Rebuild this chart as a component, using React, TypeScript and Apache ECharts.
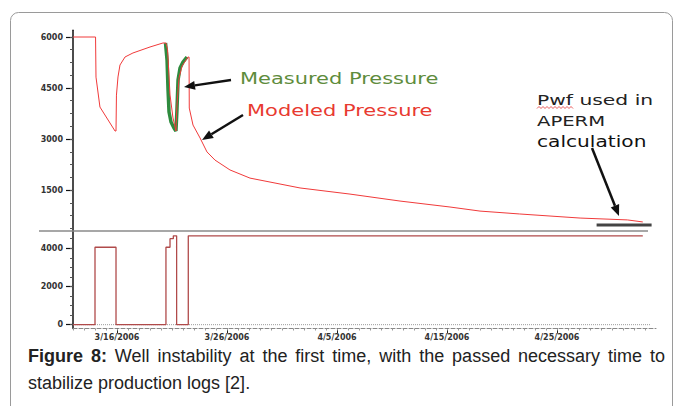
import React, { useEffect, useRef } from "react";
import * as echarts from "echarts";

// ---- axis ticks / labels ----
const xTickDays = [0, 10, 20, 30, 40];
const xTickLabels = ["3/16/2006", "3/26/2006", "4/5/2006", "4/15/2006", "4/25/2006"];
const pressureTicks = [1500, 3000, 4500, 6000];
const rateTicks = [0, 2000, 4000];

// ---- modeled pressure (red) ----
const modeledDays = [-4, -1.95, -1.91, -1.55, -0.18, -0.09, -0.05, 0.09, 0.27, 0.73, 1.45, 3.0, 4.18, 4.45, 4.6, 4.82, 5.09, 5.36, 5.45, 5.64, 5.91, 6.45, 6.55, 6.57, 6.91, 7.55, 8.18, 8.91, 10.27, 12.09, 16.64, 21.18, 25.73, 30.27, 33.0, 36.6, 42.1, 46.4, 47.8];
const modeledPressure = [6000, 6000, 4820, 3940, 3235, 3235, 4290, 4824, 5176, 5412, 5530, 5706, 5824, 5824, 5618, 4295, 3620, 3235, 4000, 4795, 5145, 5410, 5410, 3910, 3410, 3030, 2620, 2380, 2090, 1850, 1560, 1380, 1175, 1000, 880, 795, 675, 620, 560];

// ---- measured pressure (green) ----
const measuredDays = [4.41, 4.55, 4.64, 4.73, 4.91, 5.18, 5.36, 5.45, 5.55, 5.73, 6.0, 6.36];
const measuredPressure = [5824, 5324, 4441, 3794, 3500, 3324, 3235, 3853, 4735, 5088, 5265, 5412];

// ---- Pwf used in APERM calculation ----
const pwfDays = [43.6, 48.6];
const pwfPressure = [470, 470];

// ---- rate (lower panel) ----
const rateDays = [-4, -2, -2, -0.09, -0.09, 4.45, 4.45, 4.82, 4.82, 5.12, 5.12, 5.42, 5.42, 6.48, 6.48, 47.8];
const rateValues = [0, 0, 4050, 4050, 0, 0, 4050, 4050, 4500, 4500, 4650, 4650, 0, 0, 4650, 4650];
const zeroDays = [-4, 48.5];
const zeroValues = [0, 0];

// ---- texts ----
const captionLead = "Figure 8:";
const captionLine1 = "Well instability at the first time, with the passed necessary time to";
const captionLine2 = "stabilize production logs [2].";

const zip = (xs: number[], ys: number[]) => xs.map((x, i) => [x, ys[i]]);
const range = (a: number, b: number, s: number) => {
  const r: number[] = [];
  for (let v = a; v <= b + 1e-9; v += s) r.push(Math.round(v * 1000) / 1000);
  return r;
};

const arrow = (x1: number, y1: number, x2: number, y2: number) => {
  const dx = x2 - x1, dy = y2 - y1, L = Math.hypot(dx, dy);
  const ux = dx / L, uy = dy / L;
  const hl = 11, hw = 4.5;
  const bx = x2 - ux * hl, by = y2 - uy * hl;
  return [
    { type: "line", z: 100, shape: { x1, y1, x2: bx, y2: by }, style: { stroke: "#111", lineWidth: 2.5 } },
    { type: "polygon", z: 100, shape: { points: [[x2, y2], [bx - uy * hw, by + ux * hw], [bx + uy * hw, by - ux * hw]] }, style: { fill: "#111" } },
  ];
};

export default function App() {
  const ref = useRef<HTMLDivElement>(null);
  useEffect(() => {
    const el = ref.current!;
    const chart = echarts.init(el, null, { renderer: "svg" });

    // justified first caption line
    const capFamily = "'Liberation Sans', Arial, sans-serif";
    const capSize = 18;
    const canvas = document.createElement("canvas");
    const ctx = canvas.getContext("2d")!;
    const words: { t: string; bold: boolean }[] = [
      ...captionLead.split(" ").map((t) => ({ t, bold: true })),
      ...captionLine1.split(" ").map((t) => ({ t, bold: false })),
    ];
    const widths = words.map((w) => {
      ctx.font = `${w.bold ? "bold " : ""}${capSize}px ${capFamily}`;
      return ctx.measureText(w.t).width;
    });
    const capLeft = 28, capRight = 665;
    const total = widths.reduce((a, b) => a + b, 0);
    const gap = (capRight - capLeft - total) / (words.length - 1);
    let cx = capLeft;
    const captionEls: any[] = words.map((w, i) => {
      const e = {
        type: "text", z: 100, x: cx, y: 356,
        style: { text: w.t, fontSize: capSize, fontFamily: capFamily, fontWeight: w.bold ? "bold" : "normal", fill: "#222", verticalAlign: "middle" },
      };
      cx += widths[i] + gap;
      return e;
    });
    captionEls.push({
      type: "text", z: 100, x: capLeft, y: 383,
      style: { text: captionLine2, fontSize: capSize, fontFamily: capFamily, fill: "#222", verticalAlign: "middle" },
    });

    const wavy: number[][] = [];
    for (let x = 537, k = 0; x <= 574; x += 2, k++) wavy.push([x, k % 2 ? 106.5 : 108.5]);

    const labelFont = { fontSize: 8, fontWeight: "bold", color: "#333", fontFamily: "DejaVu Sans" };
    const plain = (v: number) => String(v);

    chart.setOption({
      animation: false,
      backgroundColor: "#fff",
      grid: [
        { left: 73, top: 30.2, width: 583, height: 200.6 },
        { left: 73, top: 231, width: 583, height: 97.5 },
      ],
      xAxis: [
        { type: "value", gridIndex: 0, min: -4, max: 49, show: false },
        {
          type: "value", gridIndex: 1, min: -4, max: 49, position: "bottom",
          axisLine: { show: true, onZero: false, lineStyle: { color: "#888", width: 1, type: "dashed" } },
          axisTick: { show: true, customValues: xTickDays, length: 5, lineStyle: { color: "#222" } },
          axisLabel: { customValues: xTickDays, formatter: (v: number) => xTickLabels[xTickDays.indexOf(v)] ?? "", margin: 5, ...labelFont },
          splitLine: { show: false },
        },
        {
          type: "value", gridIndex: 1, min: -4, max: 49, position: "bottom",
          axisLine: { show: false, onZero: false },
          axisTick: { show: true, customValues: range(-4, 48, 1), length: 2, lineStyle: { color: "#999" } },
          axisLabel: { show: false },
          splitLine: { show: false },
        },
      ],
      yAxis: [
        {
          type: "value", gridIndex: 0, min: 300, max: 6200, position: "left",
          axisLine: { show: true, onZero: false, lineStyle: { color: "#111", width: 1.5 } },
          axisTick: { show: true, customValues: pressureTicks, length: 7, lineStyle: { color: "#111", width: 1.2 } },
          axisLabel: { customValues: pressureTicks, margin: 10, formatter: plain, ...labelFont },
          splitLine: { show: false },
        },
        {
          type: "value", gridIndex: 0, min: 300, max: 6200, position: "left",
          axisLine: { show: false, onZero: false },
          axisTick: { show: true, customValues: range(375, 6000, 375), length: 3, lineStyle: { color: "#555" } },
          axisLabel: { show: false },
          splitLine: { show: false },
        },
        {
          type: "value", gridIndex: 1, min: -200, max: 4900, position: "left",
          axisLine: { show: true, onZero: false, lineStyle: { color: "#111", width: 1.5 } },
          axisTick: { show: true, customValues: rateTicks, length: 7, lineStyle: { color: "#111", width: 1.2 } },
          axisLabel: { customValues: rateTicks, margin: 10, formatter: plain, ...labelFont },
          splitLine: { show: false },
        },
        {
          type: "value", gridIndex: 1, min: -200, max: 4900, position: "left",
          axisLine: { show: false, onZero: false },
          axisTick: { show: true, customValues: range(0, 4500, 500), length: 3, lineStyle: { color: "#555" } },
          axisLabel: { show: false },
          splitLine: { show: false },
        },
      ],
      series: [
        { type: "line", xAxisIndex: 1, yAxisIndex: 2, data: zip(zeroDays, zeroValues), symbol: "none", lineStyle: { color: "#9a9a9a", width: 1, type: "dotted" } },
        { type: "line", xAxisIndex: 1, yAxisIndex: 2, data: zip(rateDays, rateValues), symbol: "none", lineStyle: { color: "#b04a4a", width: 1.3 } },
        { type: "line", xAxisIndex: 0, yAxisIndex: 0, data: zip(measuredDays, measuredPressure), symbol: "none", lineStyle: { color: "#2e8b3e", width: 3.5 } },
        { type: "line", xAxisIndex: 0, yAxisIndex: 0, data: zip(modeledDays, modeledPressure), symbol: "none", lineStyle: { color: "#f03a3a", width: 1 } },
        { type: "line", xAxisIndex: 0, yAxisIndex: 0, data: zip(pwfDays, pwfPressure), symbol: "none", lineStyle: { color: "#444", width: 3 } },
      ],
      graphic: [
        { type: "rect", z: 90, shape: { x: 10.5, y: 12.5, width: 662, height: 440, r: 8 }, style: { fill: "none", stroke: "#9a9a9a", lineWidth: 1 } },
        { type: "line", z: 95, shape: { x1: 39, y1: 231, x2: 648, y2: 231 }, style: { stroke: "#8a8a8a", lineWidth: 1.5 } },
        { type: "text", z: 100, x: 240, y: 78, scaleX: 1.31, style: { text: "Measured Pressure", fontSize: 16, fontFamily: "DejaVu Sans", fill: "#5e8c3c", verticalAlign: "middle" } },
        { type: "text", z: 100, x: 247, y: 111, scaleX: 1.4, style: { text: "Modeled Pressure", fontSize: 15, fontFamily: "DejaVu Sans", fill: "#e83a30", verticalAlign: "middle" } },
        { type: "text", z: 100, x: 537, y: 100, scaleX: 1.45, style: { text: "Pwf used in", fontSize: 14, fontFamily: "DejaVu Sans", fill: "#222", verticalAlign: "middle" } },
        { type: "text", z: 100, x: 537, y: 121, scaleX: 1.4, style: { text: "APERM", fontSize: 14, fontFamily: "DejaVu Sans", fill: "#222", verticalAlign: "middle" } },
        { type: "text", z: 100, x: 537, y: 141, scaleX: 1.26, style: { text: "calculation", fontSize: 16, fontFamily: "DejaVu Sans", fill: "#111", verticalAlign: "middle" } },
        { type: "polyline", z: 100, shape: { points: wavy }, style: { stroke: "#e03030", lineWidth: 0.8, fill: "none" } },
        ...arrow(231, 80, 184, 87),
        ...arrow(243, 115, 202, 140),
        ...arrow(592, 148, 619, 216),
        ...captionEls,
      ],
    });
    return () => chart.dispose();
  }, []);
  return <div ref={ref} style={{ position: "fixed", left: 0, top: 0, width: 683, height: 406, background: "#fff" }} />;
}
